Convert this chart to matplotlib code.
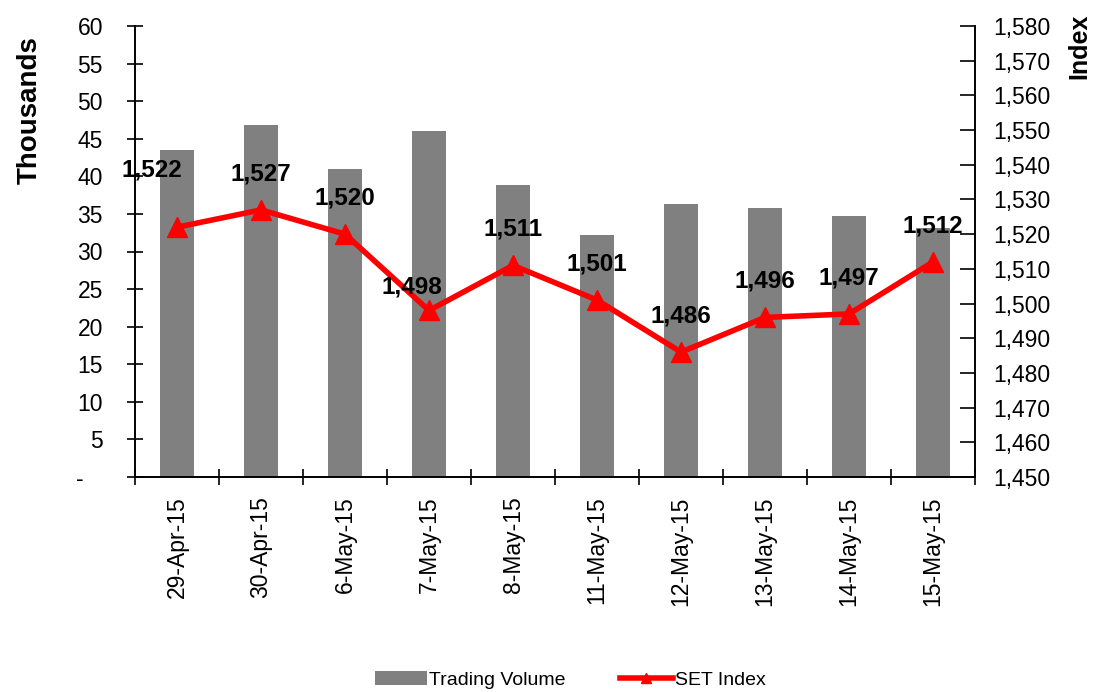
import numpy as np
import matplotlib.pyplot as plt
from matplotlib.ticker import FuncFormatter

plt.rcParams['font.family'] = ['Liberation Sans', 'DejaVu Sans']

###DONNEES###
dates = ['29-Apr-15', '30-Apr-15', '6-May-15', '7-May-15', '8-May-15',
         '11-May-15', '12-May-15', '13-May-15', '14-May-15', '15-May-15']
volume = [43.5, 46.8, 41.0, 46.0, 38.8, 32.2, 36.3, 35.8, 34.7, 33.1]  # milliers
set_index = [1522, 1527, 1520, 1498, 1511, 1501, 1486, 1496, 1497, 1512]

x = np.arange(len(dates))

fig = plt.figure(figsize=(10.93, 6.92), dpi=100)
ax = fig.add_axes([135 / 1093, 1 - 477 / 692, 840 / 1093, 451 / 692])
ax2 = ax.twinx()

ax.bar(x, volume, width=0.41, color='#808080', label='Trading Volume', zorder=2)
ax.set_xlim(-0.5, len(dates) - 0.5)
ax.set_ylim(0, 60)
ax.set_yticks(np.arange(0, 61, 5))
ax.yaxis.set_major_formatter(FuncFormatter(lambda v, p: '-   ' if v == 0 else '%d' % v))

ax.set_xticks(x)
ax.set_xticklabels(dates, rotation=90, fontsize=16.5)
ax.set_xticks(np.arange(-0.5, len(dates), 1), minor=True)
ax.tick_params(axis='x', which='major', length=0, pad=14)
ax.tick_params(axis='x', which='minor', length=12, width=1.2, direction='inout')
ax.tick_params(axis='y', labelsize=16.5, length=12, width=1.2, direction='inout', pad=17)

ax2.plot(x, set_index, color='#ff0000', lw=4, marker='^', markersize=14,
         label='SET Index', zorder=3)
ax2.set_ylim(1450, 1580)
ax2.set_yticks(np.arange(1450, 1581, 10))
ax2.yaxis.set_major_formatter(FuncFormatter(lambda v, p: '{:,.0f}'.format(v)))
ax2.tick_params(axis='y', labelsize=16.5, length=11, width=1.2, direction='in', pad=13)

# decalages des etiquettes (points)
offsets = {0: (-18, 41), 3: (-12, 17)}
for i, v in enumerate(set_index):
    dx, dy = offsets.get(i, (0, 26))
    ax2.annotate('{:,}'.format(v), (x[i], v), xytext=(dx, dy),
                 textcoords='offset points', ha='center', va='center',
                 fontsize=17.5, fontweight='bold')

fig.text(30 / 1093, 1 - 110 / 692, 'Thousands', rotation=90, fontsize=20,
         fontweight='bold', ha='center', va='center')
fig.text(1079 / 1093, 1 - 46 / 692, 'Index', rotation=90, fontsize=18,
         fontweight='bold', ha='center', va='center')

for a in (ax, ax2):
    a.spines['top'].set_visible(False)
    for s in a.spines.values():
        s.set_linewidth(1.2)

h1, l1 = ax.get_legend_handles_labels()
h2, l2 = ax2.get_legend_handles_labels()
fig.legend(h1 + h2, l1 + l2, loc='center', bbox_to_anchor=(570 / 1093, 1 - 680 / 692),
           ncol=2, frameon=False, fontsize=14, handlelength=2.7, columnspacing=2.8,
           handletextpad=0.1, markerscale=0.55)

plt.savefig('out.png', dpi=100)
